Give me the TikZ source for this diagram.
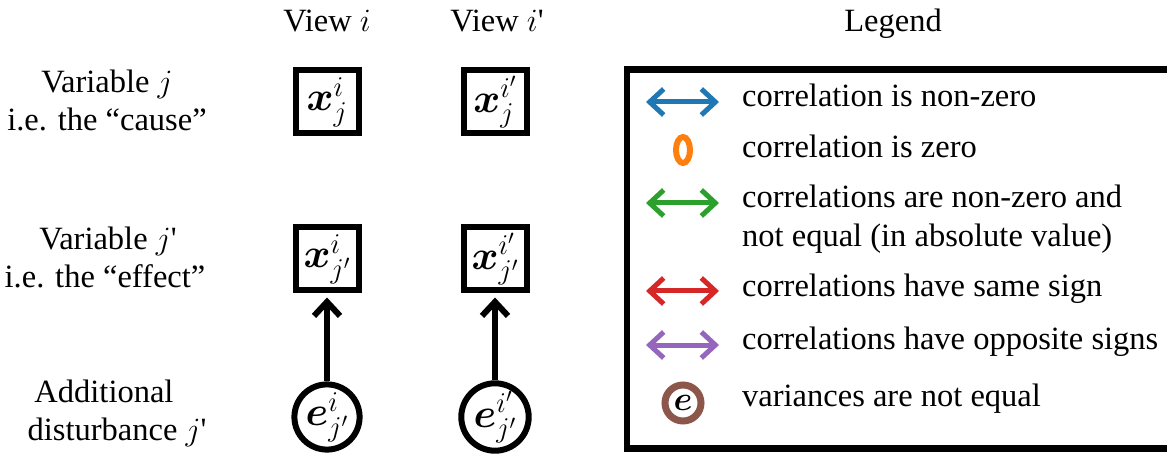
\documentclass[tikz,border=0pt]{standalone}
\usepackage{fontspec}
\setmainfont{Liberation Serif}
\usepackage{fix-cm}
\usepackage{bm}
\usetikzlibrary{arrows.meta}

\definecolor{tabblue}{HTML}{1F77B4}
\definecolor{taborange}{HTML}{FF7F0E}
\definecolor{tabgreen}{HTML}{2CA02C}
\definecolor{tabred}{HTML}{D62728}
\definecolor{tabpurple}{HTML}{9467BD}
\definecolor{tabbrown}{HTML}{8C564B}

% straight apostrophe in running text
\newcommand{\sq}{\textquotesingle}

\tikzset{
  txt/.style={inner sep=0pt, anchor=base, font=\fontsize{32.5}{39}\selectfont},
  legtxt/.style={txt, anchor=base west},
  varbox/.style={draw, line width=6pt, minimum size=63pt, inner sep=0pt,
                 font=\fontsize{41}{41}\selectfont},
  noise/.style={circle, draw, line width=6pt, minimum size=64pt, inner sep=0pt,
                font=\fontsize{41}{41}\selectfont},
  barb/.tip={Straight Barb[length=14pt,width=26pt]},
  causal/.style={line width=6pt, -barb, shorten >=4pt},
  corr/.style={line width=5pt, barb-barb},
}

\begin{document}
\begin{tikzpicture}[x=1pt,y=-1pt]
  \useasboundingbox (0,0) rectangle (1167,454);

  % column headers
  \node[txt] (hview1) at (327,32) {View $i$};
  \node[txt] (hview2) at (497,32) {View $i$\sq};
  \node[txt] (hlegend) at (893,32) {Legend};

  % row labels
  \node[txt] (lab1a) at (107,93)  {Variable $j$};
  \node[txt] (lab1b) at (107,131) {i.e. the “cause”};
  \node[txt] (lab2a) at (108,250) {Variable $j$\sq};
  \node[txt] (lab2b) at (105,288) {i.e. the “effect”};
  \node[txt] (lab3a) at (104,402) {Additional};
  \node[txt] (lab3b) at (117,440) {disturbance $j$\sq};

  % observed variables
  \node[varbox] (xa) at (327,102) {$\bm{x}^{i}_{j}$};
  \node[varbox] (xb) at (495,102) {$\bm{x}^{i'}_{j}$};
  \node[varbox] (xc) at (327,259) {$\bm{x}^{i}_{j'}$};
  \node[varbox] (xd) at (495,259) {$\bm{x}^{i'}_{j'}$};

  % disturbances
  \node[noise] (ea) at (327,417) {$\bm{e}^{i}_{j'}$};
  \node[noise] (eb) at (495,417) {$\bm{e}^{i'}_{j'}$};

  \draw[causal] (ea) -- (xc);
  \draw[causal] (eb) -- (xd);

  % legend frame, open on the right where the page ends
  \draw[line width=6.5pt] (1167,69.5) -- (627,69.5) -- (627,448.5) -- (1167,448.5);

  % legend symbols
  \coordinate (c1l) at (646,102); \coordinate (c1r) at (719,102);
  \coordinate (c3l) at (646,203); \coordinate (c3r) at (719,203);
  \coordinate (c4l) at (646,291); \coordinate (c4r) at (719,291);
  \coordinate (c5l) at (646,345); \coordinate (c5r) at (719,345);
  \draw[corr, tabblue]   (c1l) -- (c1r);
  \draw[corr, tabgreen]  (c3l) -- (c3r);
  \draw[corr, tabred]    (c4l) -- (c4r);
  \draw[corr, tabpurple] (c5l) -- (c5r);
  \draw[taborange, line width=6pt] (683,150) ellipse [x radius=7, y radius=13];
  \node[circle, draw=tabbrown, line width=7pt, minimum size=36pt, inner sep=0pt,
        font=\fontsize{34}{34}\selectfont] (evar) at (683,403) {$\bm{e}$};

  % legend texts
  \node[legtxt] (t1)  at (742,107) {correlation is non-zero};
  \node[legtxt] (t2)  at (742,158) {correlation is zero};
  \node[legtxt] (t3a) at (742,208) {correlations are non-zero and};
  \node[legtxt] (t3b) at (742,247) {not equal (in absolute value)};
  \node[legtxt] (t4)  at (742,297) {correlations have same sign};
  \node[legtxt] (t5)  at (742,349) {correlations have opposite signs};
  \node[legtxt] (t6)  at (742,406) {variances are not equal};
\end{tikzpicture}
\end{document}
